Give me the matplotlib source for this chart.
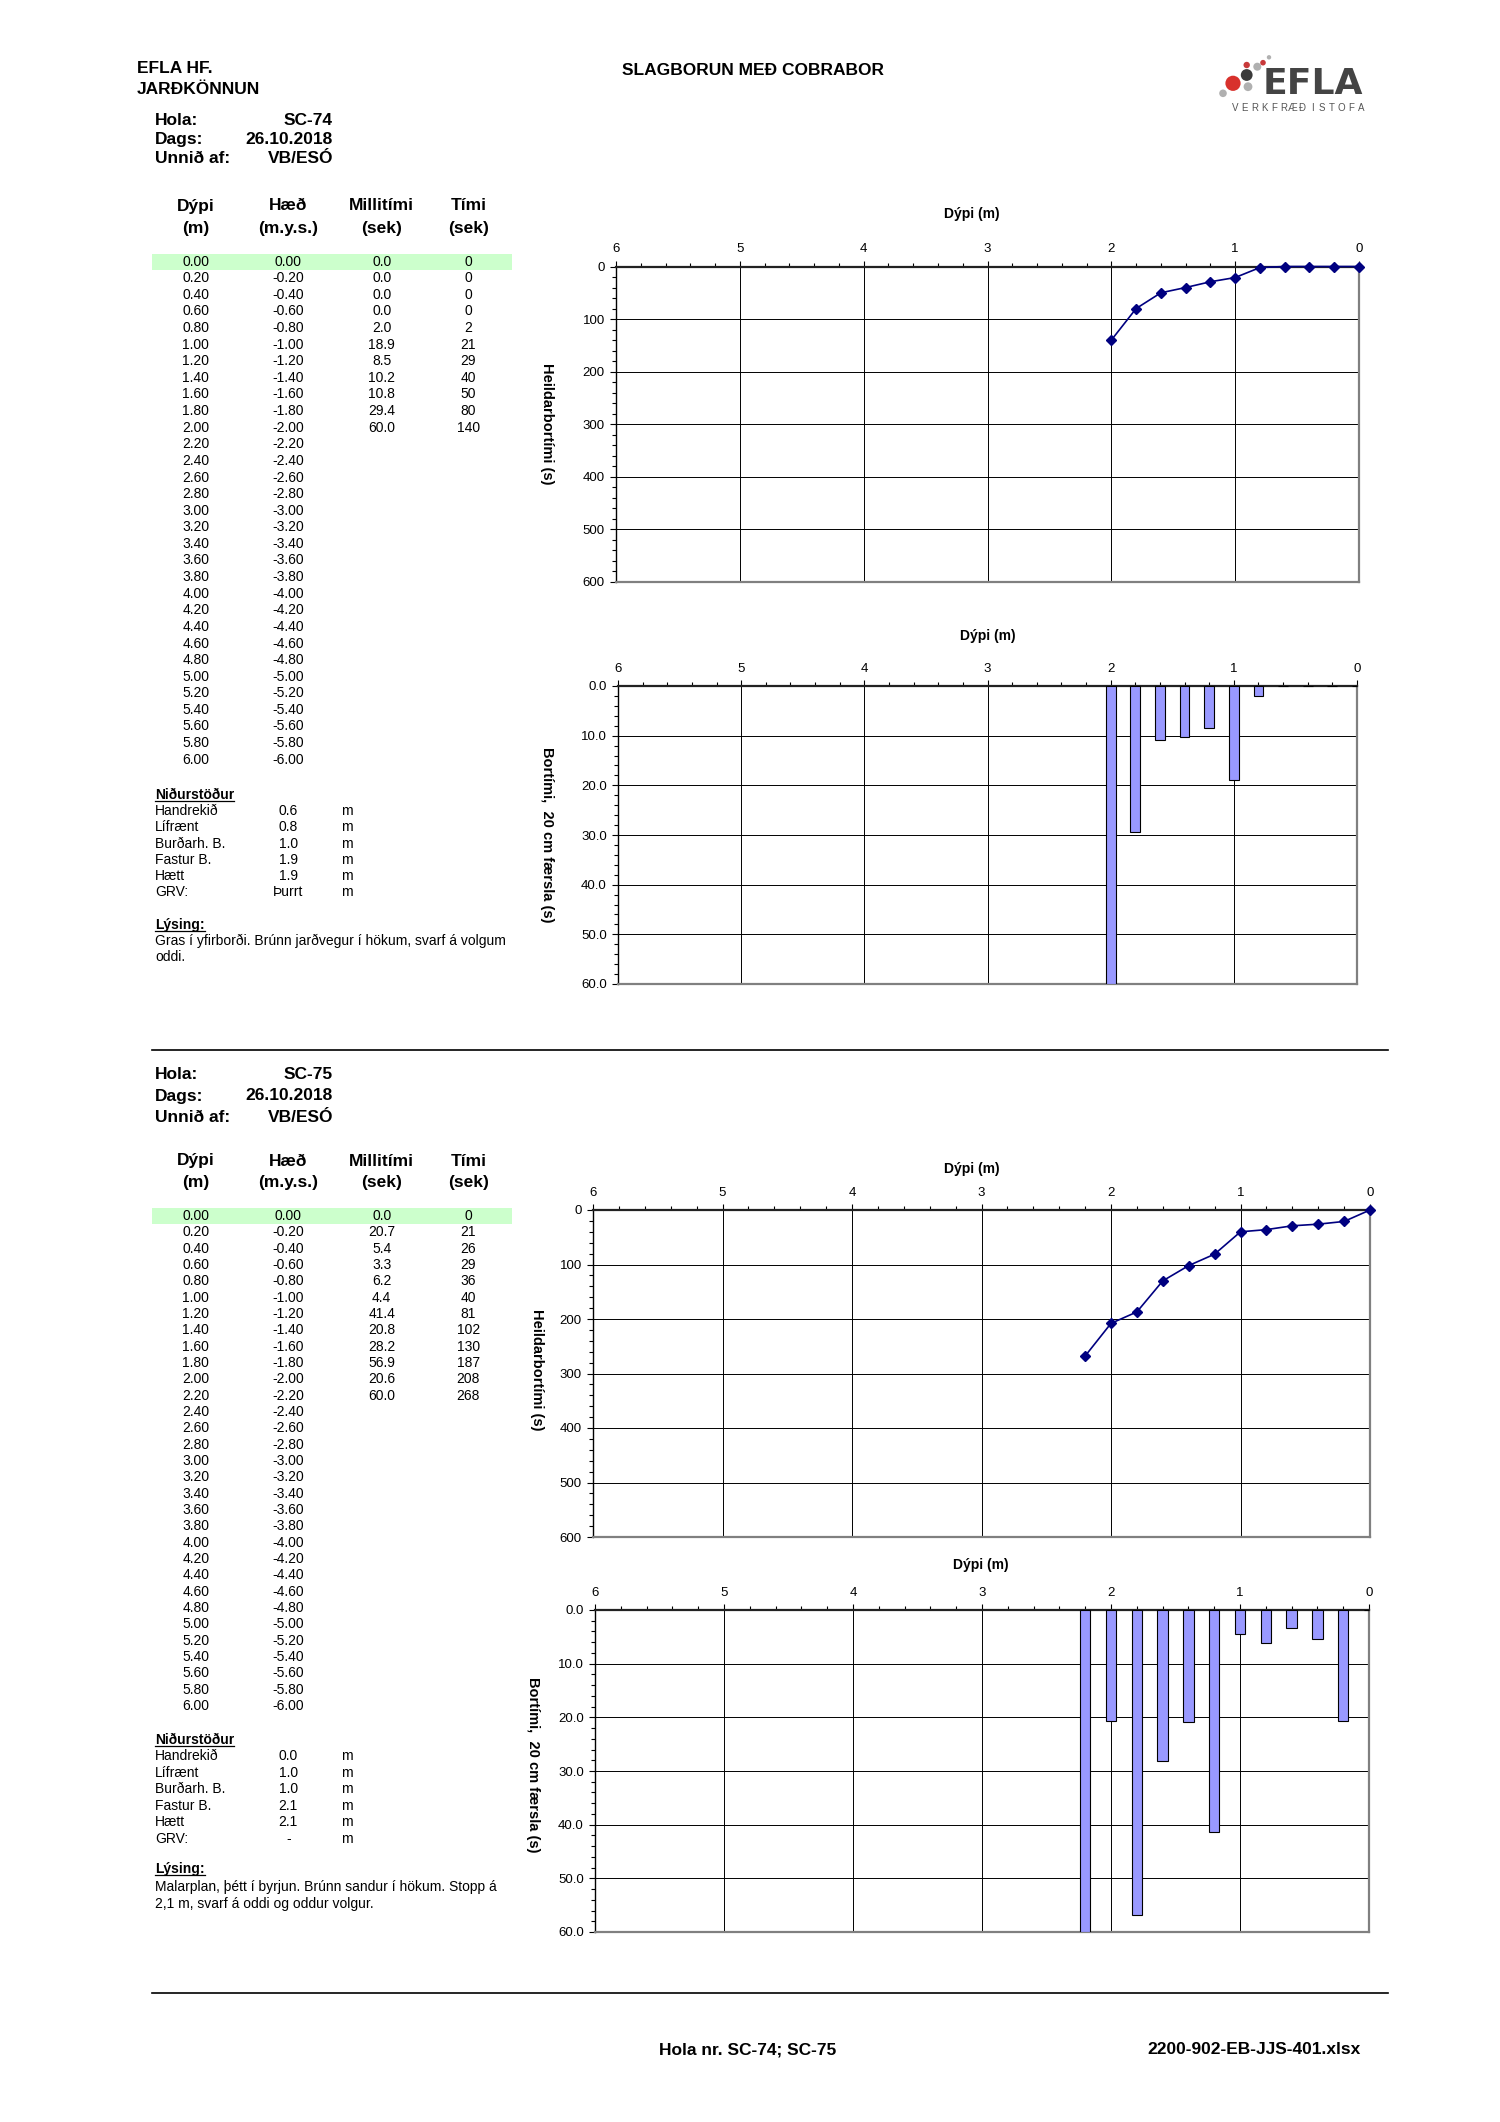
import matplotlib
matplotlib.use("Agg")
import matplotlib.pyplot as plt
from matplotlib.ticker import MultipleLocator, FormatStrFormatter
from matplotlib.patches import Circle, Rectangle
from matplotlib.lines import Line2D

W, H = 1500, 2122
plt.rcParams['font.family'] = ['Liberation Sans', 'DejaVu Sans']

# ---- data read from the sheet ----
depth = [0.00, 0.20, 0.40, 0.60, 0.80, 1.00, 1.20, 1.40, 1.60, 1.80, 2.00,
         2.20, 2.40, 2.60, 2.80, 3.00, 3.20, 3.40, 3.60, 3.80, 4.00,
         4.20, 4.40, 4.60, 4.80, 5.00, 5.20, 5.40, 5.60, 5.80, 6.00]
height = [0.00, -0.20, -0.40, -0.60, -0.80, -1.00, -1.20, -1.40, -1.60, -1.80, -2.00,
          -2.20, -2.40, -2.60, -2.80, -3.00, -3.20, -3.40, -3.60, -3.80, -4.00,
          -4.20, -4.40, -4.60, -4.80, -5.00, -5.20, -5.40, -5.60, -5.80, -6.00]

sc74_milli = [0.0, 0.0, 0.0, 0.0, 2.0, 18.9, 8.5, 10.2, 10.8, 29.4, 60.0]
sc74_timi = [0, 0, 0, 0, 2, 21, 29, 40, 50, 80, 140]
sc75_milli = [0.0, 20.7, 5.4, 3.3, 6.2, 4.4, 41.4, 20.8, 28.2, 56.9, 20.6, 60.0]
sc75_timi = [0, 21, 26, 29, 36, 40, 81, 102, 130, 187, 208, 268]

res_names = ["Handrekið", "Lífrænt", "Burðarh. B.", "Fastur B.", "Hætt", "GRV:"]
sc74_res = ["0.6", "0.8", "1.0", "1.9", "1.9", "Þurrt"]
sc75_res = ["0.0", "1.0", "1.0", "2.1", "2.1", "-"]
sc74_desc = ["Gras í yfirborði. Brúnn jarðvegur í hökum, svarf á volgum", "oddi."]
sc75_desc = ["Malarplan, þétt í byrjun. Brúnn sandur í hökum. Stopp á",
             "2,1 m, svarf á oddi og oddur volgur."]

fig = plt.figure(figsize=(15, 21.22), dpi=100)

BIG = 12.5   # bold header text
SMALL = 10   # table / notes text


def fx(x):
    return x / W


def fy(y):
    return 1 - y / H


def txt(x, y, s, **kw):
    kw.setdefault('va', 'center')
    return fig.text(fx(x), fy(y), s, **kw)


def underline(t):
    r = fig.canvas.get_renderer()
    bb = t.get_window_extent(r)
    fig.add_artist(Line2D([bb.x0 / W, bb.x1 / W], [(bb.y0 + 1) / H, (bb.y0 + 1) / H],
                          color='black', lw=0.9))


# ---- page header ----
txt(136.7, 68.3, "EFLA HF.", weight='bold', size=BIG)
txt(136.7, 90, "JARÐKÖNNUN", weight='bold', size=BIG)
txt(753, 70.4, "SLAGBORUN MEÐ COBRABOR", weight='bold', size=BIG, ha='center')

# logo
lax = fig.add_axes([fx(1210), fy(100), 70 / W, 50 / H])
lax.set_xlim(1210, 1280)
lax.set_ylim(100, 50)
lax.axis('off')
dots = [(1233, 83.3, 7.6, '#d8312c'), (1246.7, 75, 5.9, '#3a3a3a'),
        (1248, 86.7, 4.4, '#b0b0b0'), (1223, 93.3, 3.8, '#b0b0b0'),
        (1246.7, 65, 3.2, '#c8393a'), (1257.3, 66.7, 4.0, '#b0b0b0'),
        (1263, 62.7, 2.8, '#c8393a'), (1269, 57.3, 2.2, '#b0b0b0')]
for cx, cy, rr, cc in dots:
    lax.add_patch(Circle((cx, cy), rr, color=cc, lw=0))
txt(1313, 84, "EFLA", weight='bold', size=26, color='#444444', ha='center',
    family=['DejaVu Sans'])
for i, ch in enumerate("VERKFRÆÐISTOFA"):
    txt(1235 + i * 9.7, 108.3, ch, size=7, color='#555555', ha='center')


# ---- left side block for one hole ----
def draw_block(hola, y_hola, y_head, y_row0, step, milli, timi,
               y_nid, nid_step, res, y_lys, desc, desc_step):
    labels = ["Hola:", "Dags:", "Unnið af:"]
    vals = [hola, "26.10.2018", "VB/ESÓ"]
    for i in range(3):
        txt(155, y_hola[i], labels[i], weight='bold', size=BIG)
        txt(333, y_hola[i], vals[i], weight='bold', size=BIG, ha='right')
    cols = [195.7, 288.3, 381.7, 468.3]
    heads = [("Dýpi", "(m)"), ("Hæð", "(m.y.s.)"), ("Millitími", "(sek)"), ("Tími", "(sek)")]
    for c, (a, b) in zip(cols, heads):
        txt(c, y_head, a, weight='bold', size=BIG, ha='center')
        txt(c, y_head + 22, b, weight='bold', size=BIG, ha='center')
    fig.add_artist(Rectangle((fx(151.7), fy(y_row0 + 8)), 360 / W, 16 / H,
                             transform=fig.transFigure, color='#CCFFCC', lw=0, zorder=0))
    for i, (d, h) in enumerate(zip(depth, height)):
        y = y_row0 + i * step
        txt(cols[0], y, f"{d:.2f}", ha='center', size=SMALL)
        txt(cols[1], y, f"{h:.2f}", ha='center', size=SMALL)
    for i, (m, t) in enumerate(zip(milli, timi)):
        y = y_row0 + i * step
        txt(cols[2], y, f"{m:.1f}", ha='center', size=SMALL)
        txt(cols[3], y, f"{t:d}", ha='center', size=SMALL)
    t = txt(155, y_nid, "Niðurstöður", weight='bold', size=SMALL)
    underline(t)
    for i, (n, v) in enumerate(zip(res_names, res)):
        y = y_nid + (i + 1) * nid_step
        txt(155, y, n, size=SMALL)
        txt(288.3, y, v, size=SMALL, ha='center')
        txt(346.7, y, "m", size=SMALL, ha='center')
    t = txt(155, y_lys, "Lýsing:", weight='bold', size=SMALL)
    underline(t)
    for i, line in enumerate(desc):
        txt(155, y_lys + (i + 1) * desc_step, line, size=SMALL)


draw_block("SC-74", [120.7, 139.3, 158.3], 206, 261.7, 16.6, sc74_milli, sc74_timi,
           795, 16.2, sc74_res, 925, sc74_desc, 16.2)
draw_block("SC-75", [1075, 1096, 1117.3], 1161, 1216, 16.33, sc75_milli, sc75_timi,
           1740, 16.45, sc75_res, 1869.3, sc75_desc, 17.5)


# ---- charts ----
def make_axes(box, ymax, ymajor, yminor, fmt, title_xy, ylab, ylab_xy):
    l, r, t, b = box
    ax = fig.add_axes([fx(l), fy(b), (r - l) / W, (b - t) / H])
    ax.set_xlim(6, 0)
    ax.set_ylim(ymax, 0)
    ax.xaxis.tick_top()
    ax.xaxis.set_major_locator(MultipleLocator(1))
    ax.xaxis.set_minor_locator(MultipleLocator(0.2))
    ax.yaxis.set_major_locator(MultipleLocator(ymajor))
    ax.yaxis.set_minor_locator(MultipleLocator(yminor))
    ax.yaxis.set_major_formatter(FormatStrFormatter(fmt))
    ax.xaxis.set_major_formatter(FormatStrFormatter('%d'))
    ax.grid(True, which='major', color='black', lw=0.7)
    ax.set_axisbelow(True)
    ax.tick_params(axis='x', which='major', length=4, width=0.8, pad=4, labelsize=9.5)
    ax.tick_params(axis='x', which='minor', length=3, width=0.8)
    ax.tick_params(axis='y', which='major', length=4, width=0.8, pad=4, labelsize=9.5)
    ax.tick_params(axis='y', which='minor', length=3, width=0.8)
    ax.spines['top'].set_linewidth(1.6)
    ax.spines['top'].set_color('#222222')
    ax.spines['left'].set_linewidth(1.0)
    for s in ('right', 'bottom'):
        ax.spines[s].set_color('#808080')
        ax.spines[s].set_linewidth(1.6)
    txt(title_xy[0], title_xy[1], "Dýpi (m)", weight='bold', size=10, ha='center')
    txt(ylab_xy[0], ylab_xy[1], ylab, weight='bold', size=10.5, ha='center',
        rotation=270)
    return ax


def line_chart(box, timi, title_xy, ylab_xy):
    ax = make_axes(box, 600, 100, 20, '%d', title_xy, "Heildarbortími (s)", ylab_xy)
    ax.plot(depth[:len(timi)], timi, color='#000080', marker='D', ms=5, lw=1.2,
            clip_on=False, zorder=4)


def bar_chart(box, milli, title_xy, ylab_xy):
    ax = make_axes(box, 60, 10, 2, '%.1f', title_xy, "Bortími,  20 cm færsla (s)", ylab_xy)
    ax.bar(depth[:len(milli)], milli, width=0.08, color='#9999FF', edgecolor='black',
           lw=0.8, zorder=3)


line_chart((616, 1359, 266.5, 582), sc74_timi, (971.5, 213.8), (546.6, 424))
bar_chart((618, 1357, 686, 984), sc74_milli, (987.7, 636), (546.6, 835))
line_chart((593, 1370, 1210, 1537), sc75_timi, (971.5, 1169), (537, 1370))
bar_chart((595, 1369, 1610, 1932), sc75_milli, (981, 1565.4), (533, 1765))

# separators and footer
for yy in (1050, 1993):
    fig.add_artist(Line2D([fx(151.5), fx(1388)], [fy(yy), fy(yy)], color='black', lw=1.2))
txt(748, 2050, "Hola nr. SC-74; SC-75", weight='bold', size=12.5, ha='center')
txt(1361, 2050, "2200-902-EB-JJS-401.xlsx", weight='bold', size=12.5, ha='right')

fig.savefig("out.png", dpi=100)
